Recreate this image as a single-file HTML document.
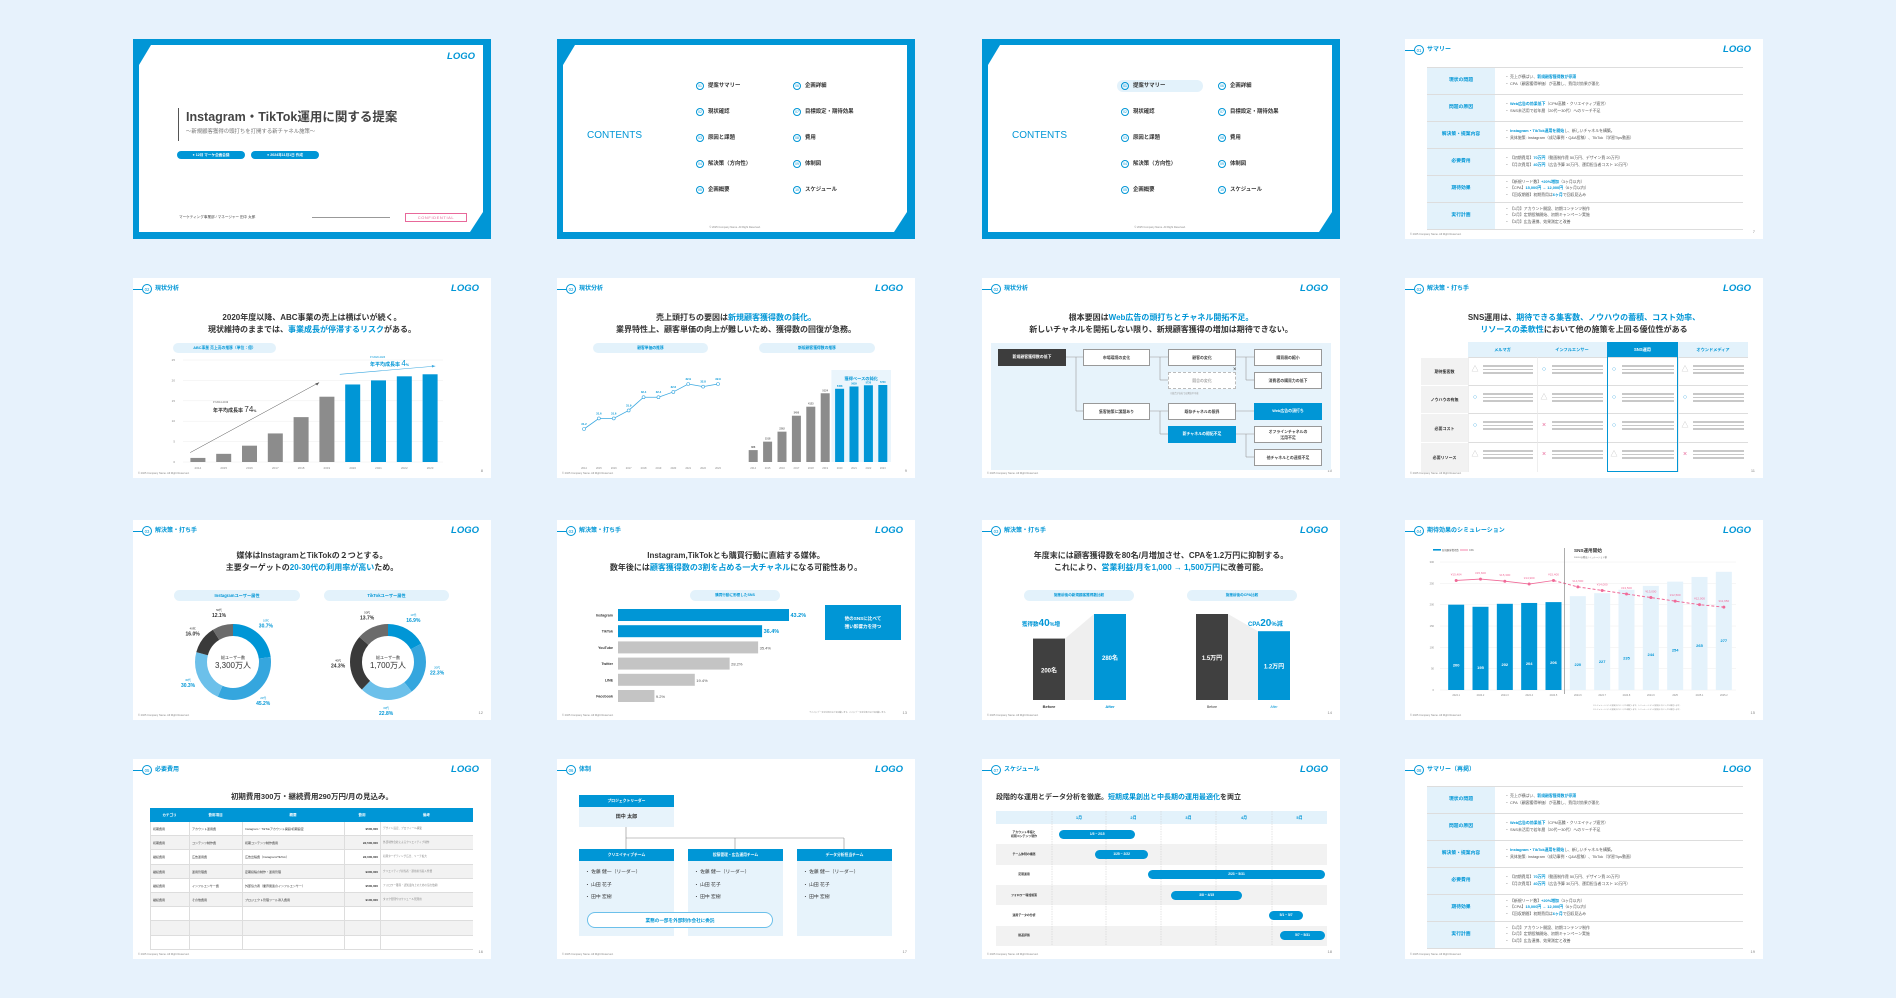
<!DOCTYPE html>
<html><head><meta charset="utf-8">
<style>
html,body{margin:0;padding:0}
body{width:1896px;height:998px;background:#e7f2fc;position:relative;overflow:hidden;font-family:"Liberation Sans","Noto Sans CJK JP",sans-serif;color:#333}
.slide{position:absolute;width:358px;height:200px;background:#fff;overflow:hidden}
.slide div{position:absolute;box-sizing:border-box;white-space:nowrap}
.b{color:#0096d6}
svg{position:absolute;left:0;top:0}
</style></head>
<body>
<div class="slide" id="s1" style="left:133px;top:39px;background:#0096d6"></div>
<div class="slide" id="s2" style="left:557px;top:39px;background:#0096d6"></div>
<div class="slide" id="s3" style="left:982px;top:39px;background:#0096d6"></div>
<div class="slide" id="s4" style="left:1405px;top:39px"></div>
<div class="slide" id="s5" style="left:133px;top:278px"></div>
<div class="slide" id="s6" style="left:557px;top:278px"></div>
<div class="slide" id="s7" style="left:982px;top:278px"></div>
<div class="slide" id="s8" style="left:1405px;top:278px"></div>
<div class="slide" id="s9" style="left:133px;top:520px"></div>
<div class="slide" id="s10" style="left:557px;top:520px"></div>
<div class="slide" id="s11" style="left:982px;top:520px"></div>
<div class="slide" id="s12" style="left:1405px;top:520px"></div>
<div class="slide" id="s13" style="left:133px;top:759px"></div>
<div class="slide" id="s14" style="left:557px;top:759px"></div>
<div class="slide" id="s15" style="left:982px;top:759px"></div>
<div class="slide" id="s16" style="left:1405px;top:759px"></div>
<script>
// ---- data ----
const salesYears=['2014','2015','2016','2017','2018','2019','2020','2021','2022','2023'];
const salesValues=[1,2,4,7,11,16,19,20,21,21.5];
const salesTicks=[0,5,10,15,20,25];
const priceYears=['2014','2015','2016','2017','2018','2019','2020','2021','2022','2023'];
const priceValues=[31.2,31.6,31.6,31.9,32.4,32.4,32.6,32.9,32.8,32.9];
const custValues=[888,1518,2262,3450,4123,5124,5458,5629,5720,5740];
const igAges=['10代','20代','30代','40代','50代'];
const igValues=[30.7,45.2,30.3,16.0,12.1];
const ttAges=['10代','20代','30代','40代','50代'];
const ttValues=[16.9,22.3,22.8,24.3,13.7];
const snsNames=['Instagram','TikTok','YouTube','Twitter','LINE','Facebook'];
const snsValues=[43.2,36.4,35.4,28.2,19.4,9.2];
const acqLabels=['Before','After'];
const acqValues=[200,280];
const cpaCompare=[1.5,1.2];
const simMonths=['2024.1','2024.2','2024.3','2024.4','2024.5','2024.6','2024.7','2024.8','2024.9','2025','2025.1','2025.2'];
const simLeads=[200,195,202,204,206,220,227,235,244,254,265,277];
const simCpa=[15404,15600,15300,14900,15400,14500,14000,13500,13000,12500,12000,11650];
const simTicks=[0,50,100,150,200,250,300];
const ganttTasks=['アカウント準備と<br>初期コンテンツ制作','チーム体制の構築','定期運用','フォロワー増加施策','運用データの分析','振返評価'];
const ganttStart=[5,25,54,67,121,127];
const ganttEnd=[46,53,151,105,127,151];
const ganttLabels=['1/5 ~ 2/15','1/25 ~ 2/22','2/23 ~ 5/31','3/8 ~ 4/15','5/1 ~ 5/7','5/7 ~ 5/31'];

// ---- helpers ----
function box(p,name,x,y,w,h,st,html){
  const el=document.createElement('div');
  
  
  el.style.cssText='left:'+x+'px;top:'+y+'px;width:'+w+'px;height:'+h+'px;'+(st||'');
  if(html!=null) el.innerHTML=html;
  p.appendChild(el);
  return el;
}
const NS='http://www.w3.org/2000/svg';
function svgEl(p,tag,name,attrs){
  const el=document.createElementNS(NS,tag);
  
  
  for(const k in attrs) el.setAttribute(k,attrs[k]);
  p.appendChild(el);
  return el;
}
function mkSvg(p,name){
  const s=document.createElementNS(NS,'svg');
  
  
  s.setAttribute('width','358');s.setAttribute('height','200');
  p.appendChild(s);return s;
}
const S=i=>document.getElementById('s'+i);
const BLUE='#0096d6';
function header(s,num,label,page){
  box(s,'header-line',0,11,9,0.8,'background:'+BLUE);
  box(s,'section-number',9,6,10,10,'border:0.7px solid '+BLUE+';border-radius:50%;font-size:4.3px;color:'+BLUE+';text-align:center;line-height:9px',num);
  box(s,'section-title',22,6,140,10,'font-size:6px;font-weight:bold;color:'+BLUE+';line-height:10px',label);
  box(s,'logo',296,5,50,12,'font-size:9.5px;font-weight:bold;font-style:italic;color:'+BLUE+';text-align:right;line-height:12px','LOGO');
  box(s,'copyright',5,193,120,5,'font-size:2.6px;color:#888;line-height:5px','© 2025 Company Name. All Right Reserved.');
  box(s,'page-number',326,189,24,7,'font-size:4px;color:#888;text-align:right;line-height:7px',page);
}
function title(s,lines,y,fs){
  fs=fs||8;
  lines.forEach((t,i)=>box(s,'slide-title-line',0,y+i*(fs+4),358,fs+3,'text-align:center;font-size:'+fs+'px;font-weight:bold;color:#333;line-height:'+(fs+3)+'px',t));
}
function pill(s,name,x,y,w,h,t,fs){
  return box(s,name,x,y,w,h,'background:#e3f2fb;border-radius:'+(h/2)+'px;text-align:center;font-size:'+(fs||4.2)+'px;font-weight:bold;color:'+BLUE+';line-height:'+h+'px',t);
}
function frame(s){
  return box(s,'slide-inner',6,6,344,187,'background:#fff;clip-path:polygon(12px 0,100% 0,100% calc(100% - 20px),calc(100% - 13px) 100%,0 100%,0 20px)');
}

// ---- slide 1 cover ----
(function(){
  const f=frame(S(1));
  box(f,'logo',290,6,46,12,'font-size:9.5px;font-weight:bold;font-style:italic;color:'+BLUE+';text-align:right','LOGO');
  box(f,'title-accent-bar',39,63,0.9,33,'background:#555');
  box(f,'cover-title',47,64,290,17,'font-size:12.5px;font-weight:bold;color:#444;line-height:17px','Instagram・TikTok運用に関する提案');
  box(f,'cover-subtitle',47,83,250,8,'font-size:5.4px;color:#777;line-height:8px','～新規顧客獲得の頭打ちを打開する新チャネル施策～');
  box(f,'meeting-tag',38,106,68,8,'background:'+BLUE+';border-radius:4px;color:#fff;font-size:3.6px;font-weight:bold;text-align:center;line-height:8px','● 12月 マーケ企画会議');
  box(f,'date-tag',112,106,68,8,'background:'+BLUE+';border-radius:4px;color:#fff;font-size:3.6px;font-weight:bold;text-align:center;line-height:8px','● 2024年11月1日 作成');
  box(f,'presenter',40,169,130,6,'font-size:3.6px;color:#444;line-height:6px','マーケティング事業部 / マネージャー 田中 太郎');
  box(f,'presenter-rule',173,172,78,0.6,'background:#999');
  box(f,'confidential-badge',266,168,62,9,'border:0.6px solid #e8689a;color:#e8689a;font-size:4px;letter-spacing:0.6px;text-align:center;line-height:8px','CONFIDENTIAL');
})();

// ---- slides 2,3 contents ----
const tocItems=['提案サマリー','現状確認','原因と課題','解決策（方向性）','企画概要','企画詳細','目標設定・期待効果','費用','体制図','スケジュール'];
[2,3].forEach(n=>{
  const f=frame(S(n));
  box(f,'contents-heading',24,84,80,14,'font-size:10px;color:'+BLUE+';line-height:14px','CONTENTS');
  tocItems.forEach((t,i)=>{
    const col=Math.floor(i/5),row=i%5;
    const x=col?230:133,y=38+row*26;
    if(n===3&&i===0) box(f,'toc-highlight',x-4,y-3,86,12,'background:#e3f2fb;border-radius:6px');
    box(f,'toc-number',x,y-1,8,8,'border:0.6px solid '+BLUE+';border-radius:50%;color:'+BLUE+';font-size:3.4px;text-align:center;line-height:7px',String(i+1).padStart(2,'0'));
    box(f,'toc-item',x+12,y-2,80,10,'font-size:5.4px;font-weight:bold;color:#333;line-height:10px',t);
  });
  box(f,'copyright',100,181,144,5,'font-size:2.6px;color:#888;text-align:center','© 2025 Company Name. All Right Reserved.');
});

// ---- summary slides 4,16 ----
const sumLabels=['現状の問題','問題の原因','解決策・提案内容','必要費用','期待効果','実行計画'];
const sumLines=[
 ['・ 売上が横ばい、<b class="b">新規顧客獲得数が停滞</b>','・ CPA（顧客獲得単価）が高騰し、費用対効果が悪化'],
 ['・ <b class="b">Web広告の効果低下</b>（CPM高騰・クリエイティブ疲労）','・ SNS未活用で若年層（20代〜30代）へのリーチ不足'],
 ['・ <b class="b">Instagram・TikTok運用を開始</b>し、新しいチャネルを構築。','・ 具体施策: Instagram（成功事例・Q&amp;A投稿）、TikTok（学習Tips動画）'],
 ['・ 【初期費用】<b class="b">70万円</b>（動画制作費 50万円、デザイン費 20万円）','・ 【月次費用】<b class="b">40万円</b>（広告予算 30万円、運用担当者コスト 10万円）'],
 ['・ 【新規リード数】<b class="b">+20%増加</b>（3ヶ月以内）','・ 【CPA】<b class="b">15,000円 → 12,000円</b>（6ヶ月以内）','・ 【回収期間】初期費用は<b class="b">6ヶ月</b>で回収見込み'],
 ['・ 【1月】アカウント開設、初期コンテンツ制作','・ 【2月】定期投稿開始、初期キャンペーン実施','・ 【3月】広告連携、効果測定と改善']];
[[4,'01','サマリー','7'],[16,'08','サマリー（再掲）','19']].forEach(([n,num,lab,pg])=>{
  const s=S(n);header(s,num,lab,pg);
  const top=n===4?28:27,rh=27;
  sumLabels.forEach((l,i)=>{
    const y=top+i*rh;
    box(s,'summary-row-divider',22,y,316,0.6,'background:#ddd');
    box(s,'summary-label',22,y+0.6,68,rh-0.6,'background:#e3f2fb;text-align:center;font-size:4.8px;font-weight:bold;color:'+BLUE+';line-height:'+(rh-0.6)+'px',l);
    const ls=sumLines[i];
    ls.forEach((t,j)=>box(s,'summary-text',100,y+(rh-ls.length*6.2)/2+j*6.2,236,6.2,'font-size:3.9px;color:#555;line-height:6.2px',t));
  });
  box(s,'summary-row-divider',22,top+6*rh,316,0.6,'background:#ddd');
});

// ---- slide 5 sales chart ----
(function(){
  const s=S(5);header(s,'02','現状分析','8');
  title(s,['2020年度以降、ABC事業の売上は横ばいが続く。','現状維持のままでは、<span class="b">事業成長が停滞するリスク</span>がある。'],34);
  pill(s,'chart-title-pill',40,65,103,10,'ABC事業 売上高の推移（単位：億）',3.8);
  const x0=52,x1=310,bw=(x1-x0)/salesYears.length;
  const y=v=>184-v/25*102;
  const g=mkSvg(s,'sales-chart');
  salesTicks.forEach(t=>{
    svgEl(g,'line','gridline',{x1:x0-2,x2:x1,y1:y(t),y2:y(t),stroke:'#eee','stroke-width':0.5});
    const tx=svgEl(g,'text','y-tick-label',{x:x0-10,y:y(t)+1,'font-size':3,fill:'#888','text-anchor':'end'});tx.textContent=t;
  });
  salesValues.forEach((v,i)=>{
    svgEl(g,'rect','sales-bar',{x:x0+i*bw+(bw-15)/2,y:y(v),width:15,height:184-y(v),fill:i<6?'#8c8c8c':BLUE});
    const tx=svgEl(g,'text','x-tick-label',{x:x0+i*bw+bw/2,y:191,'font-size':3,fill:'#888','text-anchor':'middle'});tx.textContent=salesYears[i];
  });
  svgEl(g,'line','growth-arrow-early',{x1:x0+bw*0.2,y1:y(2.3),x2:x0+bw*5.2,y2:y(19.5),stroke:'#555','stroke-width':0.5});
  svgEl(g,'path','arrow-head',{d:'M'+(x0+bw*5.2)+' '+y(19.5)+' l-4 1 l2 2 z',fill:'#555'});
  svgEl(g,'line','growth-arrow-late',{x1:x0+bw*6,y1:y(21.5),x2:x0+bw*9.7,y2:y(23.5),stroke:'#3aa8e0','stroke-width':0.6});
  svgEl(g,'path','arrow-head',{d:'M'+(x0+bw*9.7)+' '+y(23.5)+' l-3.5 -1.2 l0.4 2.6 z',fill:'#3aa8e0'});
  box(s,'annotation-early-period',80,123,60,4,'font-size:2.5px;color:#666','FY2014-2019');
  box(s,'annotation-early-rate',80,127,70,10,'font-size:5px;font-weight:bold;color:#333;line-height:10px','年平均成長率 <span style="font-size:8px;font-weight:normal">74</span><span style="font-size:3.5px">%</span>');
  box(s,'annotation-late-period',237,78,60,4,'font-size:2.5px;color:'+BLUE,'FY2020-2023');
  box(s,'annotation-late-rate',237,81,70,10,'font-size:5px;font-weight:bold;color:'+BLUE+';line-height:10px','年平均成長率 <span style="font-size:8px;font-weight:normal">4</span><span style="font-size:3.5px">%</span>');
})();

// ---- slide 6 ----
(function(){
  const s=S(6);header(s,'02','現状分析','9');
  title(s,['売上頭打ちの要因は<span class="b">新規顧客獲得数の鈍化。</span>','業界特性上、顧客単価の向上が難しいため、獲得数の回復が急務。'],34);
  pill(s,'unit-price-pill',36,65,115,10,'顧客単価の推移',3.8);
  pill(s,'new-customer-pill',202,65,116,10,'新規顧客獲得数の推移',3.8);
  const g=mkSvg(s,'customer-charts');
  const lx0=27,lstep=(161-27)/(priceValues.length-1);
  const ly=v=>151-(v-31.2)/1.7*45;
  let d='';
  priceValues.forEach((v,i)=>{d+=(i?'L':'M')+(lx0+i*lstep)+' '+ly(v)+' ';});
  svgEl(g,'path','unit-price-line',{d:d,fill:'none',stroke:'#3aa8e0','stroke-width':0.8});
  priceValues.forEach((v,i)=>{
    svgEl(g,'circle','unit-price-point',{cx:lx0+i*lstep,cy:ly(v),r:1.5,fill:'#fff',stroke:'#3aa8e0','stroke-width':0.6});
    const t=svgEl(g,'text','unit-price-label',{x:lx0+i*lstep,y:ly(v)-4,'font-size':2.8,fill:BLUE,'text-anchor':'middle','font-weight':'bold'});t.textContent=v.toFixed(1);
    const tx=svgEl(g,'text','x-tick-label',{x:lx0+i*lstep,y:191,'font-size':2.6,fill:'#888','text-anchor':'middle'});tx.textContent=priceYears[i];
  });
  const bx0=189,bw=(333-189)/custValues.length,by=v=>184-v/5740*77;
  svgEl(g,'rect','slowdown-highlight',{x:bx0+6*bw-1,y:92,width:bw*4+2,height:92,fill:'#eaf5fc'});
  const ht=svgEl(g,'text','slowdown-label',{x:bx0+8*bw,y:102,'font-size':4.2,fill:BLUE,'text-anchor':'middle','font-weight':'bold'});ht.textContent='獲得ペースの鈍化';
  custValues.forEach((v,i)=>{
    svgEl(g,'rect','customer-bar',{x:bx0+i*bw+(bw-9)/2,y:by(v),width:9,height:184-by(v),fill:i<6?'#8c8c8c':BLUE});
    const t=svgEl(g,'text','customer-value-label',{x:bx0+i*bw+bw/2,y:by(v)-2,'font-size':2.5,fill:i<6?'#666':BLUE,'text-anchor':'middle','font-weight':'bold'});t.textContent=v;
    const tx=svgEl(g,'text','x-tick-label',{x:bx0+i*bw+bw/2,y:191,'font-size':2.6,fill:'#888','text-anchor':'middle'});tx.textContent=priceYears[i];
  });
})();

// ---- slide 7 tree ----
(function(){
  const s=S(7);header(s,'02','現状分析','10');
  title(s,['根本要因は<span class="b">Web広告の頭打ちとチャネル開拓不足。</span>','新しいチャネルを開拓しない限り、新規顧客獲得の増加は期待できない。'],34);
  box(s,'tree-background',9,65,340,127,'background:#e7f3fb');
  const g=mkSvg(s,'tree-connectors');
  const L=(a,b,c,d)=>svgEl(g,'polyline','connector',{points:a+','+b+' '+c+','+b+' '+c+','+d,fill:'none',stroke:'#999','stroke-width':0.6});
  L(84,79,101,79);L(94,79,94,133);svgEl(g,'line','connector',{x1:94,y1:133,x2:101,y2:133,stroke:'#999','stroke-width':0.6});
  L(168,79,186,79);L(178,79,178,102);svgEl(g,'line','connector',{x1:178,y1:102,x2:186,y2:102,stroke:'#999','stroke-width':0.6});
  L(168,133,186,133);L(178,133,178,156);svgEl(g,'line','connector',{x1:178,y1:156,x2:186,y2:156,stroke:'#999','stroke-width':0.6});
  L(254,79,272,79);L(264,79,264,102);svgEl(g,'line','connector',{x1:264,y1:102,x2:272,y2:102,stroke:'#999','stroke-width':0.6});
  L(254,133,272,133);L(264,156,264,179);svgEl(g,'line','connector',{x1:254,y1:156,x2:272,y2:156,stroke:'#999','stroke-width':0.6});svgEl(g,'line','connector',{x1:264,y1:179,x2:272,y2:179,stroke:'#999','stroke-width':0.6});
  const nb=(name,x,y,w,t,type)=>{
    let st='font-size:3.9px;text-align:center;line-height:16px;font-weight:bold;';
    if(type==='dark') st+='background:#3d3d3d;color:#fff;';
    else if(type==='blue') st+='background:'+BLUE+';color:#fff;';
    else if(type==='dash') st+='background:#fff;border:0.6px dashed #bbb;color:#aaa;';
    else st+='background:#fff;border:0.6px solid #999;color:#444;';
    if(t.indexOf('<br>')>=0) st+='line-height:6px;padding-top:2px;';
    box(s,name,x,y,w,17,st,t);
  };
  nb('root-cause-box',16,71,68,'新規顧客獲得数の低下','dark');
  nb('cause-box',101,71,67,'市場環境の変化');
  nb('cause-box',101,125,67,'集客施策に課題あり');
  nb('cause-box',186,71,68,'顧客の変化');
  nb('cause-box',186,94,68,'競合の変化','dash');
  box(s,'excluded-mark',251,89,6,6,'font-size:6px;color:#333;line-height:6px','×');
  box(s,'excluded-note',188,113,68,4,'font-size:2.2px;color:#999','※競合が自社では解決不可能');
  nb('cause-box',186,125,68,'既存チャネルの限界');
  nb('cause-box',186,148,68,'新チャネルの開拓不足','blue');
  nb('cause-box',272,71,68,'購買層の縮小');
  nb('cause-box',272,94,68,'消費者の購買力の低下');
  nb('cause-box',272,125,68,'Web広告の頭打ち','blue');
  nb('cause-box',272,148,68,'オフラインチャネルの<br>活用不足');
  nb('cause-box',272,171,68,'他チャネルとの連携不足');
})();

// ---- slide 8 comparison table ----
(function(){
  const s=S(8);header(s,'03','解決策・打ち手','11');
  title(s,['SNS運用は、<span class="b">期待できる集客数、ノウハウの蓄積、コスト効率、</span>','<span class="b">リソースの柔軟性</span>において他の施策を上回る優位性がある'],34);
  const cols=['メルマガ','インフルエンサー','SNS運用','オウンドメディア'];
  const rows=['期待集客数','ノウハウの有無','必要コスト','必要リソース'];
  const marks=[['△','○','○','△'],['○','△','○','○'],['○','×','○','△'],['△','×','△','×']];
  const cx=[63,132,202,273,343],ry=[79,107,135,164,194];
  cols.forEach((c,i)=>box(s,'column-header',cx[i],64,cx[i+1]-cx[i],15,'font-size:4.2px;font-weight:bold;text-align:center;line-height:15px;'+(i===2?'background:'+BLUE+';color:#fff':'background:#e3f2fb;color:'+BLUE),c));
  rows.forEach((r,j)=>{
    box(s,'row-header',16,ry[j],47,ry[j+1]-ry[j],'background:#f2f2f2;border-top:0.6px solid #fff;font-size:4px;font-weight:bold;text-align:center;color:#333;line-height:'+(ry[j+1]-ry[j])+'px',r);
    cols.forEach((c,i)=>{
      const m=marks[j][i];
      box(s,'cell',cx[i],ry[j],cx[i+1]-cx[i],ry[j+1]-ry[j],'border-top:0.6px solid #ddd;border-left:0.6px solid #eee');
      box(s,'cell-mark',cx[i]+3,ry[j]+9,8,8,'font-size:7px;line-height:8px;text-align:center;color:'+(m==='×'?'#e8689a':m==='○'?'#3aa8e0':'#bbb'),m);
      [0,1,2].forEach(k=>box(s,'cell-text-line',cx[i]+15,ry[j]+8+k*3.6,cx[i+1]-cx[i]-19,1.6,'background:#c8c8c8'));
    });
  });
  box(s,'sns-column-outline',202,64,71,130,'border:1px solid '+BLUE);
})();

// ---- slide 9 donuts ----
(function(){
  const s=S(9);header(s,'03','解決策・打ち手','12');
  title(s,['媒体はInstagramとTikTokの２つとする。','主要ターゲットの<span class="b">20-30代の利用率が高い</span>ため。'],30);
  pill(s,'instagram-pill',41,70,126,11,'Instagramユーザー属性',4.2);
  pill(s,'tiktok-pill',191,70,125,11,'TikTokユーザー属性',4.2);
  const g=mkSvg(s,'donut-charts');
  const colors=['#0096d6','#35a6de','#6cc0ea','#3a3a3a','#6b6b6b'];
  function donut(cx,cy,vals,labels,name,total){
    const r=32,C=2*Math.PI*r,sum=vals.reduce((a,b)=>a+b,0);let off=0;
    vals.forEach((v,i)=>{
      const len=v/sum*C;
      svgEl(g,'circle',name+'-segment',{cx:cx,cy:cy,r:r,fill:'none',stroke:colors[i],'stroke-width':12,'stroke-dasharray':len+' '+(C-len),'stroke-dashoffset':-off,transform:'rotate(-90 '+cx+' '+cy+')'});
      const mid=(off+len/2)/C*2*Math.PI-Math.PI/2;
      const lx=cx+Math.cos(mid)*50,ly=cy+Math.sin(mid)*50;
      const col=i<3?BLUE:'#333';
      const t1=svgEl(g,'text',name+'-age-label',{x:lx,y:ly-3,'font-size':2.8,fill:col,'text-anchor':'middle'});t1.textContent=labels[i];
      const t2=svgEl(g,'text',name+'-value-label',{x:lx,y:ly+3,'font-size':5,fill:col,'text-anchor':'middle','font-weight':'bold'});t2.textContent=v.toFixed(1)+'%';
      off+=len;
    });
    const a=svgEl(g,'text',name+'-total-caption',{x:cx,y:cy-3,'font-size':4,fill:'#333','text-anchor':'middle'});a.textContent='総ユーザー数';
    const b=svgEl(g,'text',name+'-total-value',{x:cx,y:cy+6,'font-size':8,fill:'#333','text-anchor':'middle'});b.textContent=total;
  }
  donut(100,142,igValues,igAges,'instagram','3,300万人');
  donut(255,142,ttValues,ttAges,'tiktok','1,700万人');
})();

// ---- slide 10 hbar ----
(function(){
  const s=S(10);header(s,'03','解決策・打ち手','13');
  title(s,['Instagram,TikTokとも購買行動に直結する媒体。','数年後には<span class="b">顧客獲得数の3割を占める一大チャネル</span>になる可能性あり。'],30);
  pill(s,'chart-title-pill',133,70,90,11,'購買行動に影響したSNS',3.6);
  const g=mkSvg(s,'sns-bar-chart');
  const x0=61,k=171/43.2;
  snsValues.forEach((v,i)=>{
    const y=89+i*16.2,hi=i<2;
    svgEl(g,'rect','sns-bar',{x:x0,y:y,width:v*k,height:12,fill:hi?BLUE:'#c4c4c4'});
    const n=svgEl(g,'text','sns-name',{x:x0-5,y:y+7.5,'font-size':3.6,fill:'#333','text-anchor':'end','font-weight':'bold'});n.textContent=snsNames[i];
    const t=svgEl(g,'text','sns-value',{x:x0+v*k+1.5,y:y+8,'font-size':hi?5.5:4,fill:hi?BLUE:'#555','font-weight':hi?'bold':'normal'});t.textContent=v.toFixed(1)+'%';
  });
  box(s,'callout-box',268,85,76,35,'background:'+BLUE+';color:#fff;font-size:4.6px;font-weight:bold;text-align:center;line-height:8px;padding-top:10px;white-space:normal','他のSNSに比べて<br>強い影響力を持つ');
  box(s,'footnote',170,191,160,4,'font-size:2px;color:#888;text-align:right','※ここにデータの引用元などを記載します。ここにデータの引用元などを記載します。');
})();

// ---- slide 11 before after ----
(function(){
  const s=S(11);header(s,'03','解決策・打ち手','14');
  title(s,['年度末には顧客獲得数を80名/月増加させ、CPAを1.2万円に抑制する。','これにより、<span class="b">営業利益/月を1,000 → 1,500万円</span>に改善可能。'],30);
  pill(s,'acquisition-pill',42,70,110,11,'施策前後の新規顧客獲得数比較',3.6);
  pill(s,'cpa-pill',205,70,110,11,'施策前後のCPA比較',3.6);
  const g=mkSvg(s,'before-after-chart');
  const base=180,ha=v=>v/280*86,hc=v=>v/1.5*86;
  const ax=[51,112],cx=[214,276],w=32;
  svgEl(g,'polygon','change-band',{points:(ax[0]+w)+','+(base-ha(acqValues[0]))+' '+ax[1]+','+(base-ha(acqValues[1]))+' '+ax[1]+','+base+' '+(ax[0]+w)+','+base,fill:'#efefef'});
  svgEl(g,'polygon','change-band',{points:(cx[0]+w)+','+(base-hc(cpaCompare[0]))+' '+cx[1]+','+(base-hc(cpaCompare[1]))+' '+cx[1]+','+base+' '+(cx[0]+w)+','+base,fill:'#efefef'});
  acqValues.forEach((v,i)=>{
    svgEl(g,'rect','acquisition-bar',{x:ax[i],y:base-ha(v),width:w,height:ha(v),fill:i?BLUE:'#404040'});
    const t=svgEl(g,'text','acquisition-value',{x:ax[i]+w/2,y:base-ha(v)/2+3,'font-size':6,fill:'#fff','text-anchor':'middle','font-weight':'bold'});t.textContent=v+'名';
    const l=svgEl(g,'text','x-label',{x:ax[i]+w/2,y:188,'font-size':4,fill:i?BLUE:'#333','text-anchor':'middle','font-weight':'bold'});l.textContent=acqLabels[i];
  });
  cpaCompare.forEach((v,i)=>{
    svgEl(g,'rect','cpa-bar',{x:cx[i],y:base-hc(v),width:w,height:hc(v),fill:i?BLUE:'#404040'});
    const t=svgEl(g,'text','cpa-value',{x:cx[i]+w/2,y:base-hc(v)/2+3,'font-size':6,fill:'#fff','text-anchor':'middle','font-weight':'bold'});t.textContent=v+'万円';
    const l=svgEl(g,'text','x-label',{x:cx[i]+w/2,y:188,'font-size':3.4,fill:i?BLUE:'#333','text-anchor':'middle'});l.textContent=acqLabels[i];
  });
  box(s,'acquisition-change',40,98,70,12,'font-size:5.5px;font-weight:bold;color:'+BLUE+';line-height:12px','獲得数<span style="font-size:10px">40</span>%増');
  box(s,'cpa-change',266,98,70,12,'font-size:6px;font-weight:bold;color:'+BLUE+';line-height:12px','CPA<span style="font-size:10px">20</span>%減');
})();

// ---- slide 12 combo ----
(function(){
  const s=S(12);header(s,'04','期待効果のシミュレーション','15');
  const g=mkSvg(s,'simulation-chart');
  const y=v=>170-v/300*128,x0=39,x1=331,bw=(x1-x0)/simMonths.length;
  simTicks.forEach(t=>{
    svgEl(g,'line','gridline',{x1:x0-4,x2:x1,y1:y(t),y2:y(t),stroke:'#eee','stroke-width':0.5});
    const tx=svgEl(g,'text','y-tick-label',{x:x0-10,y:y(t)+1,'font-size':2.6,fill:'#888','text-anchor':'end'});tx.textContent=t;
  });
  simLeads.forEach((v,i)=>{
    const cx=x0+i*bw+bw/2,fut=i>=5;
    svgEl(g,'rect','lead-bar',{x:cx-8,y:y(v),width:16,height:170-y(v),fill:fut?'#e4f2fb':BLUE});
    const t=svgEl(g,'text','lead-value',{x:cx,y:y(v)+(fut?70:62),'font-size':4,fill:fut?BLUE:'#fff','text-anchor':'middle','font-weight':'bold'});t.textContent=v;
    const tx=svgEl(g,'text','x-tick-label',{x:cx,y:176,'font-size':2.5,fill:'#888','text-anchor':'middle'});tx.textContent=simMonths[i];
  });
  const px=i=>x0+i*bw+bw/2,py=i=>y(simCpa[i]/60);
  let d1='',d2='';
  simCpa.forEach((v,i)=>{ if(i<=5) d1+=(i?'L':'M')+px(i)+' '+py(i)+' '; if(i>=4) d2+=(i>4?'L':'M')+px(i)+' '+py(i)+' '; });
  svgEl(g,'path','cpa-actual-line',{d:d1.replace(/L[^L]*$/,''),fill:'none',stroke:'#f06a98','stroke-width':0.8});
  svgEl(g,'path','cpa-forecast-line',{d:d2,fill:'none',stroke:'#f06a98','stroke-width':1,'stroke-dasharray':'3 2'});
  simCpa.forEach((v,i)=>{
    svgEl(g,'circle','cpa-point',{cx:px(i),cy:py(i),r:1.5,fill:'#f06a98'});
    const t=svgEl(g,'text','cpa-value',{x:px(i),y:py(i)-5,'font-size':3,fill:'#f06a98','text-anchor':'middle'});t.textContent='¥'+v.toLocaleString('en-US');
  });
  svgEl(g,'line','launch-divider',{x1:x0+5*bw-1,x2:x0+5*bw-1,y1:28,y2:174,stroke:'#777','stroke-width':0.6});
  svgEl(g,'rect','legend-bar-swatch',{x:28,y:29,width:8,height:1.6,fill:BLUE});
  const l1=svgEl(g,'text','legend-bar-label',{x:37,y:31,'font-size':2.4,fill:'#666'});l1.textContent='新規顧客獲得数';
  svgEl(g,'line','legend-line-swatch',{x1:55,x2:63,y1:30,y2:30,stroke:'#f06a98','stroke-width':0.8});
  const l2=svgEl(g,'text','legend-line-label',{x:64,y:31,'font-size':2.4,fill:'#666'});l2.textContent='CPA';
  box(s,'launch-label',169,27,60,7,'font-size:4.6px;font-weight:bold;color:#333;line-height:7px','SNS運用開始');
  box(s,'launch-note',169,35,70,4,'font-size:2.2px;color:#666','2024.6以降はシミュレーション値');
  box(s,'chart-note',188,184,158,3,'font-size:1.9px;color:#888','※シミュレーションの根拠やロジックを補足します。シミュレーションの根拠やロジックを補足します。');
  box(s,'chart-note',188,188,158,3,'font-size:1.9px;color:#888','※シミュレーションの根拠やロジックを補足します。シミュレーションの根拠やロジックを補足します。');
})();

// ---- slide 13 cost table ----
(function(){
  const s=S(13);header(s,'05','必要費用','16');
  title(s,['初期費用300万・継続費用290万円/月の見込み。'],33,7.5);
  const cx=[17,56,109,211,247,340];
  const hd=['カテゴリ','費用項目','概要','費用','備考'];
  const rows=[['初期費用','アカウント運用費','Instagram・TikTokアカウント開設/初期設定','¥500,000','デザイン設定、プロフィール構築'],
   ['初期費用','コンテンツ制作費','初期コンテンツ制作費用','¥2,500,000','外部制作会社によるクリエイティブ制作'],
   ['継続費用','広告運用費','広告出稿費（Instagram/TikTok）','¥2,000,000','初期ターゲティング広告、リーチ拡大'],
   ['継続費用','運用管理費','定期投稿の制作・運用管理','¥300,000','クリエイティブ担当者・運用担当者人件費'],
   ['継続費用','インフルエンサー費','外部協力者（業界関連のインフルエンサー）','¥500,000','フォロワー獲得・認知度向上のための協力依頼'],
   ['継続費用','その他費用','プロジェクト管理ツール導入費用','¥100,000','タスク管理やスケジュール管理用'],
   ['','','','',''],['','','','',''],['','','','','']];
  hd.forEach((h,i)=>box(s,'table-header-cell',cx[i],49,cx[i+1]-cx[i],14,'background:'+BLUE+';color:#fff;font-size:3.6px;font-weight:bold;text-align:center;line-height:14px',h));
  rows.forEach((r,j)=>{
    const y=63+j*14.2;
    box(s,'table-row',17,y,323,14.2,'border-bottom:0.6px solid #ddd;'+(j%2?'background:#f2f2f2':''));
    r.forEach((c,i)=>box(s,'table-cell',cx[i],y,cx[i+1]-cx[i],14.2,'border-left:0.5px solid #ddd;padding:0 2px;font-size:'+(i===4?2.6:3)+'px;color:'+(i===4?'#888':'#333')+';line-height:14px;overflow:hidden;'+(i===3?'text-align:right;font-weight:bold':''),c));
  });
})();

// ---- slide 14 org ----
(function(){
  const s=S(14);header(s,'06','体制','17');
  box(s,'leader-card',22,36,95,32,'background:#e7f3fb');
  box(s,'leader-role',22,36,95,12,'background:'+BLUE+';color:#fff;font-size:3.8px;font-weight:bold;text-align:center;line-height:12px','プロジェクトリーダー');
  box(s,'leader-name',22,50,95,16,'font-size:5px;font-weight:bold;text-align:center;line-height:16px;color:#333','田中 太郎');
  const g=mkSvg(s,'org-connectors');
  svgEl(g,'polyline','connector',{points:'69,68 69,79',fill:'none',stroke:'#888','stroke-width':0.6});
  svgEl(g,'polyline','connector',{points:'69,79 287,79',fill:'none',stroke:'#888','stroke-width':0.6});
  [69,178,287].forEach(x=>svgEl(g,'line','connector',{x1:x,x2:x,y1:79,y2:90,stroke:'#888','stroke-width':0.6}));
  const teams=['クリエイティブチーム','投稿管理・広告運用チーム','データ分析担当チーム'];
  [22,131,240].forEach((x,i)=>{
    box(s,'team-card',x,90,95,87,'background:#e7f3fb');
    box(s,'team-name',x,90,95,12,'background:'+BLUE+';color:#fff;font-size:3.8px;font-weight:bold;text-align:center;line-height:12px',teams[i]);
    ['・ 佐藤 健一（リーダー）','・ 山田 花子','・ 田中 宏樹'].forEach((m,k)=>box(s,'team-member',x+6,109+k*12.5,88,9,'font-size:4.8px;color:#333;line-height:9px',m));
  });
  box(s,'outsourcing-pill',30,153,186,16,'background:#fff;border:0.8px solid #6cc0ea;border-radius:8px;text-align:center;font-size:4.6px;font-weight:bold;color:'+BLUE+';line-height:15px','業務の一部を外部制作会社に委託');
})();

// ---- slide 15 gantt ----
(function(){
  const s=S(15);header(s,'07','スケジュール','18');
  box(s,'schedule-title',14,33,340,11,'font-size:7px;font-weight:bold;color:#333;line-height:11px','段階的な運用とデータ分析を徹底。<span class="b">短期成果創出と中長期の運用最適化</span>を両立');
  const mx=[70,124,179,234,290,345];
  box(s,'gantt-header',14,52,331,13,'background:#e3f2fb');
  ['1月','2月','3月','4月','5月'].forEach((m,i)=>box(s,'month-label',mx[i],52,mx[i+1]-mx[i],13,'font-size:4px;font-weight:bold;color:'+BLUE+';text-align:center;line-height:13px',m));
  const rh=20.3,x=d=>70+(d-1)/30.4*55;
  ganttTasks.forEach((t,j)=>{
    const y=65+j*rh;
    box(s,'gantt-row',14,y,331,rh,j%2?'background:#f2f2f2':'');
    box(s,'task-label',14,y,56,rh,'font-size:2.9px;font-weight:bold;color:#333;text-align:center;display:flex;align-items:center;justify-content:center;white-space:normal;line-height:4.5px',t);
  });
  const g=mkSvg(s,'gantt-grid');
  mx.slice(0,5).forEach(v=>svgEl(g,'line','month-divider',{x1:v,x2:v,y1:52,y2:187,stroke:'#ccc','stroke-width':0.5,'stroke-dasharray':'1.5 1'}));
  ganttTasks.forEach((t,j)=>{
    const y=65+j*rh+rh/2-4.5;
    const x1=x(ganttStart[j]),w=Math.max(x(ganttEnd[j]+1)-x1,34);
    box(s,'task-bar',x1,y,w,9,'background:'+BLUE+';border-radius:4.5px;color:#fff;font-size:3.3px;font-weight:bold;text-align:center;line-height:9px',ganttLabels[j]);
  });
})();
</script>
</body></html>
